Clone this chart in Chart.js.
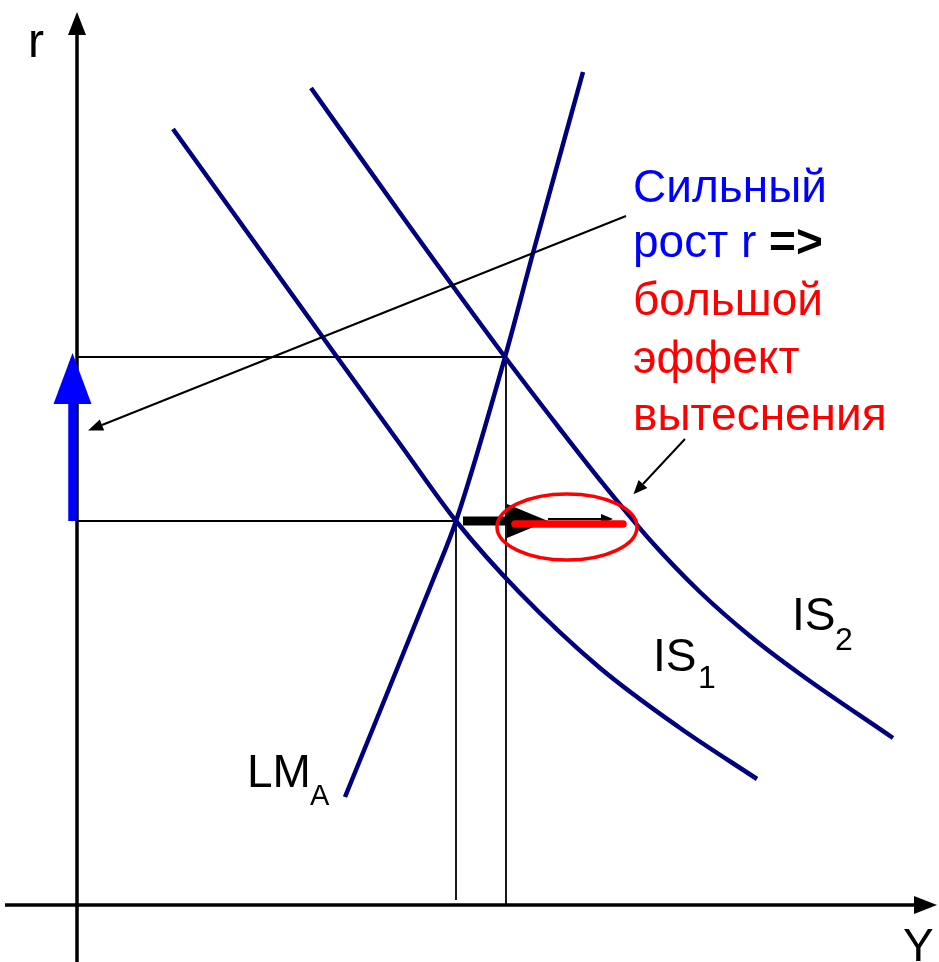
<!DOCTYPE html>
<html>
<head>
<meta charset="utf-8">
<script src="https://cdn.jsdelivr.net/npm/chart.js@4"></script>
<style>
  html, body { margin: 0; padding: 0; background: #fff; }
  #wrap { width: 939px; height: 962px; position: relative; }
</style>
</head>
<body>
<div id="wrap"><canvas id="myChart"></canvas></div>
<script>
// Y (output) and r (interest rate), origin at the axes crossing
const is1Y = [96, 260, 323, 379, 443, 523, 603, 680];
const is1R = [776, 548, 461, 384, 312, 237, 177, 126];

const is2Y = [234, 328, 428, 483, 523, 573, 623, 673, 723, 816];
const is2R = [817, 685, 548, 476, 425, 365, 313, 269, 231, 167];

const lmY = [268, 356, 379, 428, 456, 506];
const lmR = [108, 325, 384, 548, 652, 833];

// equilibria
const eqY = [379, 429];
const eqR = [384, 548];

// crowding out shift
const shiftFullY = [386, 430];
const shiftThinY = [471, 524];
const crowdY = [438, 546];

const navy = '#00007f';

const ctx = document.getElementById('myChart').getContext('2d');

function linha(xs, rs, cor, largura, extra) {
    return Object.assign({
        data: xs.map((x, i) => ({ x: x, y: rs[i] })),
        showLine: true,
        borderColor: cor,
        backgroundColor: cor,
        borderWidth: largura,
        pointRadius: 0,
        pointHoverRadius: 0,
        fill: false
    }, extra || {});
}

const datasets = [
    // guide lines
    linha([0, eqY[0]], [eqR[0], eqR[0]], '#000', 1.8),
    linha([0, eqY[1]], [eqR[1], eqR[1]], '#000', 1.8),
    linha([eqY[0], eqY[0]], [eqR[0], 5], '#000', 1.8),
    linha([eqY[1], eqY[1]], [eqR[1], 0], '#000', 1.8),
    // axes
    linha([0, 0], [-57, 870], '#000', 3.5, { head: { len: 23, half: 9 } }),
    linha([-72, 837], [0, 0], '#000', 3.5, { head: { len: 23, half: 9 } }),
    // curves
    linha(is1Y, is1R, navy, 4.5, { cubicInterpolationMode: 'monotone' }),
    linha(is2Y, is2R, navy, 4.5, { cubicInterpolationMode: 'monotone' }),
    linha(lmY, lmR, navy, 4.5, { cubicInterpolationMode: 'monotone' }),
    // rise of r
    linha([-4.5, -4.5], [eqR[0], 501], '#0000ff', 8.5, { head: { len: 51, half: 19 } }),
    // annotation arrows
    linha([549, 25], [689, 480], '#000', 2, { head: { len: 15, half: 6 } }),
    linha([608, 566], [466, 421], '#000', 2, { head: { len: 14, half: 6 } }),
    // shift of IS
    linha(shiftThinY, [386, 386], '#000', 2, { head: { len: 12, half: 5 } }),
    linha(shiftFullY, [eqR[0], eqR[0]], '#000', 9, { head: { len: 41, half: 17 } }),
    linha(crowdY, [381, 381], '#ff0000', 7.5, { borderCapStyle: 'round' })
];
datasets.forEach((d, i) => { d.order = datasets.length - i; });

const textos = [
    { t: 'r', x: -49, y: 848, cor: '#000', size: 48 },
    { t: 'Y', x: 826, y: -56, cor: '#000', size: 46 },
    { t: 'Сильный', x: 556, y: 703, cor: '#0000ff', size: 46 },
    { t: 'рост r', x: 556, y: 648, cor: '#0000ff', size: 46, tail: ' =>', tailCor: '#000' },
    { t: 'большой', x: 556, y: 590, cor: '#ff0000', size: 46 },
    { t: 'эффект', x: 556, y: 532, cor: '#ff0000', size: 46 },
    { t: 'вытеснения', x: 556, y: 475, cor: '#ff0000', size: 46 },
    { t: 'IS', x: 576, y: 234, cor: '#000', size: 46 },
    { t: '1', x: 621, y: 217, cor: '#000', size: 32 },
    { t: 'IS', x: 715, y: 275, cor: '#000', size: 46 },
    { t: '2', x: 758, y: 255, cor: '#000', size: 32 },
    { t: 'LM', x: 170, y: 118, cor: '#000', size: 46 },
    { t: 'A', x: 233, y: 100, cor: '#000', size: 29 }
];

const setas = {
    id: 'setas',
    afterDatasetDraw(chart, args) {
        const ds = chart.data.datasets[args.index];
        if (!ds.head) return;
        const pts = args.meta.data;
        const a = pts[pts.length - 2], b = pts[pts.length - 1];
        const dx = b.x - a.x, dy = b.y - a.y;
        const d = Math.hypot(dx, dy);
        const ux = dx / d, uy = dy / d;
        const c = chart.ctx;
        c.save();
        c.fillStyle = ds.borderColor;
        c.beginPath();
        c.moveTo(b.x + ux * ds.head.len, b.y + uy * ds.head.len);
        c.lineTo(b.x - uy * ds.head.half, b.y + ux * ds.head.half);
        c.lineTo(b.x + uy * ds.head.half, b.y - ux * ds.head.half);
        c.closePath();
        c.fill();
        c.restore();
    },
    afterDraw(chart) {
        const c = chart.ctx;
        const sx = chart.scales.x, sy = chart.scales.y;
        // ellipse round the crowding-out effect
        c.save();
        c.strokeStyle = '#ff0000';
        c.lineWidth = 3.5;
        c.beginPath();
        c.ellipse(sx.getPixelForValue(490), sy.getPixelForValue(378), 70, 33, 0, 0, Math.PI * 2);
        c.stroke();
        // texts
        c.textBaseline = 'alphabetic';
        c.textAlign = 'left';
        textos.forEach(tx => {
            const fonte = tx.size + 'px "Liberation Sans", Arial, sans-serif';
            const px = sx.getPixelForValue(tx.x), py = sy.getPixelForValue(tx.y);
            c.font = fonte;
            c.fillStyle = tx.cor;
            c.fillText(tx.t, px, py);
            if (tx.tail) {
                const w = c.measureText(tx.t).width;
                c.fillStyle = tx.tailCor;
                c.font = 'bold ' + fonte;
                c.fillText(tx.tail, px + w, py);
            }
        });
        c.restore();
    }
};

new Chart(ctx, {
    type: 'scatter',
    data: { datasets: datasets },
    options: {
        responsive: true,
        maintainAspectRatio: false,
        animation: false,
        events: [],
        layout: { padding: 0 },
        scales: {
            x: { type: 'linear', min: -77, max: 862, display: false },
            y: { type: 'linear', min: -57, max: 905, display: false }
        },
        plugins: {
            legend: { display: false },
            tooltip: { enabled: false },
            title: { display: false }
        }
    },
    plugins: [setas]
});
</script>
</body>
</html>
